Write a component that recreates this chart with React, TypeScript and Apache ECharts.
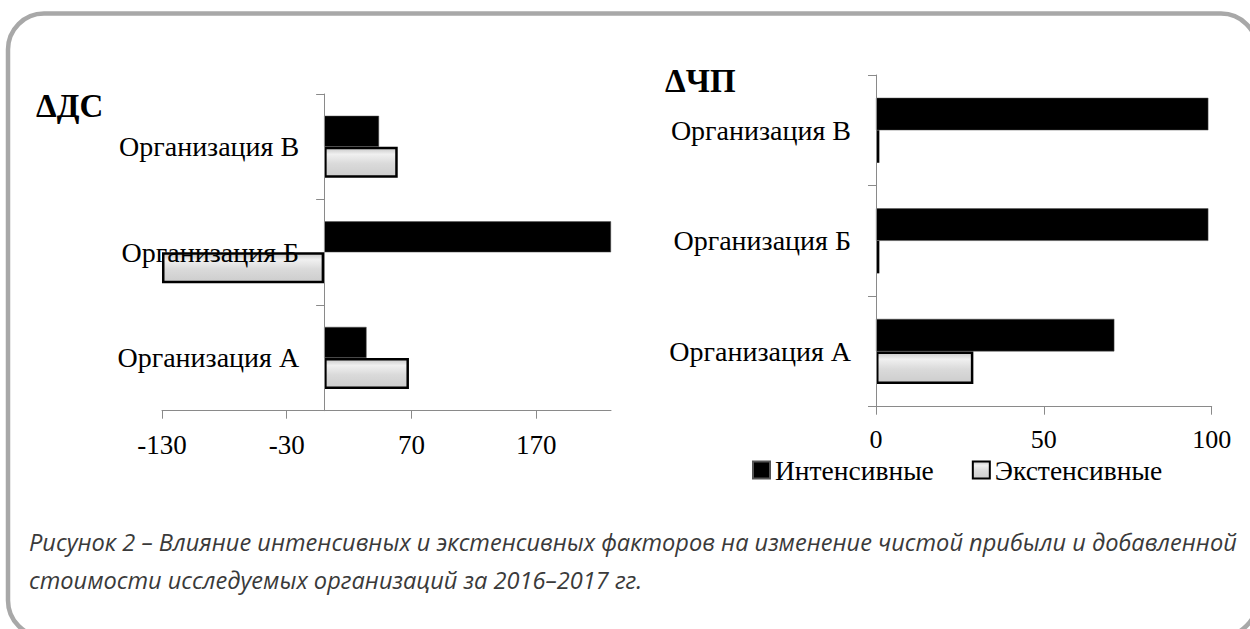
import React, { useEffect, useRef } from 'react';
import * as echarts from 'echarts';

const categories = ['Организация А', 'Организация Б', 'Организация В'];
const seriesNames = ['Интенсивные', 'Экстенсивные'];
const dsIntensive = [34, 230, 44];
const dsExtensive = [68, -130, 59];
const chpIntensive = [71, 99, 99];
const chpExtensive = [29, 1, 1];
const dsAxis = { min: -130, max: 230, interval: 100 };
const chpAxis = { min: 0, max: 100, interval: 50 };
const titles = ['ΔДС', 'ΔЧП'];
const captionLines = [
  'Рисунок 2 – Влияние интенсивных и экстенсивных факторов на изменение чистой прибыли и добавленной',
  'стоимости исследуемых организаций за 2016–2017 гг.',
];

const SERIF = '"Liberation Serif", "Times New Roman", serif';
const CAPTION_FONT = 'italic 23.6px "Open Sans", "Noto Sans", sans-serif';

export default function App() {
  const ref = useRef<HTMLDivElement>(null);
  useEffect(() => {
    if (!ref.current) return;
    const chart = echarts.init(ref.current, undefined, { renderer: 'svg' });
    const grayFill = new echarts.graphic.LinearGradient(0, 0, 0, 1, [
      { offset: 0, color: '#c8c8c8' },
      { offset: 0.22, color: '#f0f0f0' },
      { offset: 0.55, color: '#dadada' },
      { offset: 1, color: '#cdcdcd' },
    ]);
    const axisLineStyle = { color: '#8a8a8a', width: 1 };
    const makeX = (ax: any, idx: number, margin: number, fontSize: number) => ({
      type: 'value',
      gridIndex: idx,
      min: ax.min,
      max: ax.max,
      interval: ax.interval,
      splitLine: { show: false },
      axisLine: { show: true, lineStyle: axisLineStyle },
      axisTick: { show: true, length: 8, lineStyle: axisLineStyle },
      axisLabel: {
        margin,
        fontFamily: SERIF,
        fontSize,
        lineHeight: 22,
        color: '#000',
        showMaxLabel: idx === 1,
        formatter: (v: number) => (idx === 0 && v === ax.max ? '' : String(v)),
      },
    });
    const makeY = (idx: number, offset: number) => ({
      type: 'category',
      gridIndex: idx,
      data: categories,
      position: 'left',
      offset,
      z: 5,
      axisLine: { show: true, onZero: false, lineStyle: axisLineStyle },
      axisTick: { show: true, length: 8, lineStyle: axisLineStyle },
      axisLabel: { margin: 25, fontFamily: SERIF, fontSize: 28, color: '#000' },
    });
    const blackStyle = { color: '#000', borderColor: '#555', borderWidth: 0.5 };
    const grayStyle = { color: grayFill, borderColor: '#000', borderWidth: 2.5 };
    // left grid: value -130 at x=162, px per unit = 449 / 360; zero line offset
    const leftGridLeft = 162;
    const leftGridWidth = 449;
    const zeroOffset = -((0 - dsAxis.min) / (dsAxis.max - dsAxis.min)) * leftGridWidth;
    chart.setOption({
      animation: false,
      backgroundColor: '#fff',
      grid: [
        { left: leftGridLeft, top: 94, width: leftGridWidth, height: 316.7, containLabel: false, outerBoundsMode: 'none' },
        { left: 876, top: 75, width: 335.7, height: 331.7, containLabel: false, outerBoundsMode: 'none' },
      ],
      xAxis: [makeX(dsAxis, 0, 23, 27), makeX(chpAxis, 1, 22, 26)],
      yAxis: [makeY(0, zeroOffset), makeY(1, 0)],
      legend: {
        data: seriesNames,
        left: 752,
        top: 456,
        padding: 0,
        icon: 'rect',
        itemWidth: 17,
        itemHeight: 17,
        itemGap: 38,
        textStyle: { fontFamily: SERIF, fontSize: 27.5, color: '#000', lineHeight: 22 },
      },
      series: [
        { name: seriesNames[0], type: 'bar', xAxisIndex: 0, yAxisIndex: 0, data: dsIntensive, barWidth: 31, barGap: '0%', itemStyle: blackStyle },
        { name: seriesNames[1], type: 'bar', xAxisIndex: 0, yAxisIndex: 0, data: dsExtensive, barWidth: 31, barGap: '0%', itemStyle: grayStyle },
        { name: seriesNames[0], type: 'bar', xAxisIndex: 1, yAxisIndex: 1, data: chpIntensive, barWidth: 32.5, barGap: '0%', itemStyle: blackStyle },
        { name: seriesNames[1], type: 'bar', xAxisIndex: 1, yAxisIndex: 1, data: chpExtensive, barWidth: 32.5, barGap: '0%', itemStyle: grayStyle },
      ],
      graphic: [
        {
          type: 'rect',
          z: -10,
          shape: { x: 8, y: 13.5, width: 1249, height: 623, r: 36 },
          style: { fill: 'none', stroke: '#a8a8a8', lineWidth: 4.5 },
        },
        {
          type: 'text', x: 36, y: 106,
          style: { text: titles[0], font: `bold 33px ${SERIF}`, fill: '#000', textVerticalAlign: 'middle' },
        },
        {
          type: 'text', x: 665, y: 81,
          style: { text: titles[1], font: `bold 33px ${SERIF}`, fill: '#000', textVerticalAlign: 'middle' },
        },
        {
          type: 'text', x: 29, y: 542,
          style: { text: captionLines[0], font: CAPTION_FONT, fill: '#3a3a3a', textVerticalAlign: 'middle' },
        },
        {
          type: 'text', x: 29, y: 580,
          style: { text: captionLines[1], font: CAPTION_FONT, fill: '#3a3a3a', textVerticalAlign: 'middle' },
        },
      ],
    });
    return () => chart.dispose();
  }, []);
  return (
    <div style={{ position: 'fixed', left: 0, top: 0, width: 1250, height: 629, background: '#fff' }}>
      <div ref={ref} style={{ width: 1250, height: 629 }} />
    </div>
  );
}
